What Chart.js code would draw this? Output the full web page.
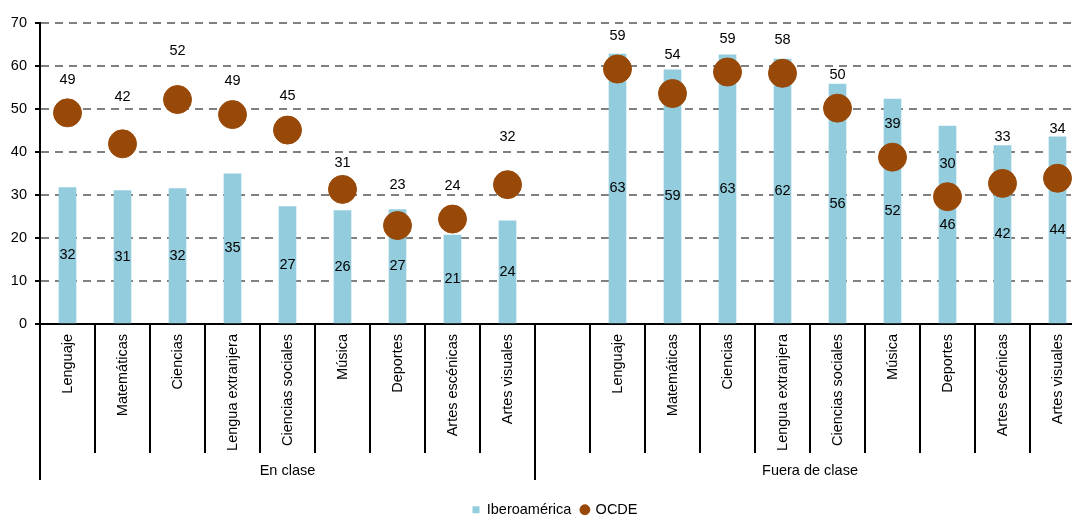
<!DOCTYPE html>
<html>
<head>
<meta charset="utf-8">
<script src="https://cdn.jsdelivr.net/npm/chart.js@4.4.0/dist/chart.umd.min.js"></script>
<style>
    html, body { margin: 0; padding: 0; background: #fff; overflow: hidden; }
    #wrap { width: 1072px; height: 517px; overflow: hidden; }
</style>
</head>
<body>
<div id="wrap"><canvas id="chart" width="1110" height="527"></canvas></div>
<script>
// datos
const groups = ['En clase', 'Fuera de clase'];
const subjects = ['Lenguaje', 'Matemáticas', 'Ciencias', 'Lengua extranjera', 'Ciencias sociales', 'Música', 'Deportes', 'Artes escénicas', 'Artes visuales'];
const iberoEnClase = [31.7, 31.0, 31.5, 34.9, 27.3, 26.4, 26.6, 20.7, 24.0];
const iberoFuera = [62.8, 59.1, 62.6, 61.6, 55.8, 52.3, 46.0, 41.5, 43.5];
const ocdeEnClase = [49.1, 41.9, 52.2, 48.7, 45.1, 31.3, 22.9, 24.4, 32.4];
const ocdeFuera = [59.3, 53.6, 58.6, 58.3, 50.2, 38.8, 29.6, 32.7, 33.9];
const yTicks = [0, 10, 20, 30, 40, 50, 60, 70];

// distancia de la etiqueta OCDE sobre el punto (px)
const ocdeLabelOffset = [33, 47, 49, 34, 34, 26, 41, 33, 48, 0, 33, 39, 33, 33, 33, 33, 33, 46, 49];

const labels = [...subjects, '', ...subjects];
const iberoData = [...iberoEnClase, null, ...iberoFuera];
const ocdeData = [...ocdeEnClase, null, ...ocdeFuera];

const FONT_FAMILY = '"Liberation Sans", Arial, sans-serif';
const FONT_SIZE = 14.5;
const FONT = FONT_SIZE + 'px ' + FONT_FAMILY;

const annotate = {
    id: 'annotate',
    afterLayout(chart) {
        // centrar la leyenda bajo el área visible
        chart.legend.left += 12.5;
        chart.legend.right += 12.5;
    },
    afterDatasetsDraw(chart) {
        const ctx = chart.ctx;
        ctx.save();
        ctx.font = FONT;
        ctx.fillStyle = '#000';
        ctx.textAlign = 'center';
        ctx.textBaseline = 'middle';
        chart.getDatasetMeta(0).data.forEach((bar, i) => {
            if (iberoData[i] == null) return;
            ctx.fillText(Math.round(iberoData[i]), bar.x, (bar.y + bar.base) / 2);
        });
        chart.getDatasetMeta(1).data.forEach((pt, i) => {
            if (ocdeData[i] == null) return;
            ctx.fillText(Math.round(ocdeData[i]), pt.x, pt.y - ocdeLabelOffset[i]);
        });
        ctx.restore();
    },
    afterDraw(chart) {
        const ctx = chart.ctx;
        const area = chart.chartArea;
        const xs = chart.scales.x;
        const n = labels.length;
        const w = (area.right - area.left) / n;
        const bottom = area.bottom;
        ctx.save();
        ctx.strokeStyle = '#000';
        ctx.lineWidth = 2;
        // separadores
        for (let k = 0; k <= n; k++) {
            const x = Math.round(area.left + k * w);
            const long = (k === 0 || k === subjects.length || k === n);
            ctx.beginPath();
            ctx.moveTo(x, bottom);
            ctx.lineTo(x, long ? bottom + 156 : bottom + 129);
            ctx.stroke();
        }
        // etiquetas de categorías
        ctx.font = FONT;
        ctx.fillStyle = '#000';
        ctx.textAlign = 'right';
        ctx.textBaseline = 'middle';
        labels.forEach((lab, i) => {
            if (!lab) return;
            const x = xs.getPixelForValue(i);
            ctx.save();
            ctx.translate(x, bottom + 10);
            ctx.rotate(-Math.PI / 2);
            ctx.fillText(lab, 0, 0);
            ctx.restore();
        });
        // grupos
        ctx.textAlign = 'center';
        const g1 = (area.left + area.left + subjects.length * w) / 2;
        const g2 = (area.left + subjects.length * w + area.right) / 2;
        ctx.fillText(groups[0], g1, bottom + 147);
        ctx.fillText(groups[1], g2, bottom + 147);
        ctx.restore();
    }
};

new Chart(document.getElementById('chart'), {
    type: 'bar',
    data: {
        labels: labels,
        datasets: [{
            label: 'Iberoamérica',
            data: iberoData,
            backgroundColor: '#93CDDD',
            borderWidth: 0,
            barThickness: 17,
            pointStyle: 'rect',
            order: 1
        }, {
            type: 'line',
            label: 'OCDE',
            data: ocdeData,
            showLine: false,
            pointRadius: 14,
            pointHoverRadius: 14,
            pointBackgroundColor: '#984807',
            pointBorderColor: '#984807',
            backgroundColor: '#984807',
            borderColor: '#984807',
            pointStyle: 'circle',
            order: 0
        }]
    },
    options: {
        responsive: false,
        animation: false,
        layout: { padding: { top: 23, right: 25, left: 0, bottom: 0 } },
        plugins: {
            tooltip: { enabled: false },
            legend: {
                position: 'bottom',
                labels: {
                    usePointStyle: true,
                    boxWidth: 7,
                    boxHeight: 7,
                    padding: 10,
                    color: '#000',
                    font: { family: FONT_FAMILY, size: FONT_SIZE },
                    sort: (a, b) => a.datasetIndex - b.datasetIndex
                }
            }
        },
        scales: {
            x: {
                grid: { display: false },
                ticks: { display: false },
                border: { color: '#000', width: 2 },
                afterFit(s) { s.height = 168.5; }
            },
            y: {
                min: 0,
                max: 70,
                afterBuildTicks(s) { s.ticks = yTicks.map(v => ({ value: v })); },
                ticks: {
                    padding: 8,
                    color: '#000',
                    font: { family: FONT_FAMILY, size: FONT_SIZE }
                },
                grid: {
                    color: c => c.tick && c.tick.value === 0 ? 'rgba(0,0,0,0)' : '#808080',
                    lineWidth: 2,
                    tickColor: '#000',
                    tickLength: 5,
                    tickWidth: 2
                },
                border: { color: '#000', width: 2, dash: [8, 6] },
                afterFit(s) { s.width = 40; }
            }
        }
    },
    plugins: [annotate]
});
</script>
</body>
</html>
